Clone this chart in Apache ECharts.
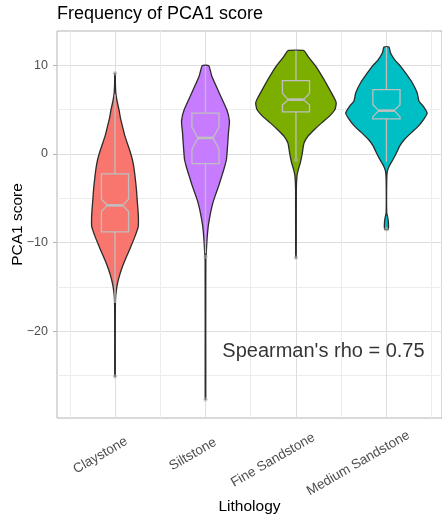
<!DOCTYPE html>
<html><head><meta charset="utf-8">
<script src="https://cdn.jsdelivr.net/npm/echarts@6/dist/echarts.min.js"></script>
<style>html,body{margin:0;padding:0;background:#fff}#c{width:442px;height:517px}</style>
</head><body><div id="c"></div>
<script>
// ---------------- data ----------------
const categories = ['Claystone', 'Siltstone', 'Fine Sandstone', 'Medium Sandstone'];
const fillColors = ['#F8766D', '#C77CFF', '#7CAE00', '#00BFC4'];

// violin density profiles: score values and half-widths (in category units)
const claystoneY = [9.1, 8.0, 6.9, 6.0, 5.0, 4.0, 3.1, 2.0, 1.2, 0.3, -0.6, -1.5, -2.5, -3.5, -4.4, -5.3, -6.3, -7.3, -8.2, -9.3, -10.4, -11.2, -12.0, -13.0, -14.0, -14.9, -16.0, -17.2, -21.0, -25.1];
const claystoneW = [0.003, 0.004, 0.009, 0.022, 0.044, 0.061, 0.083, 0.110, 0.136, 0.166, 0.191, 0.208, 0.221, 0.232, 0.240, 0.246, 0.254, 0.259, 0.257, 0.221, 0.177, 0.144, 0.110, 0.072, 0.042, 0.022, 0.008, 0.004, 0.003, 0.003];
const siltstoneY = [9.95, 8.75, 6.9, 5.0, 3.7, 2.4, 1.2, -0.6, -1.5, -2.5, -3.5, -4.4, -5.3, -6.3, -7.3, -8.2, -9.5, -11.1, -12.0, -20.0, -27.7];
const siltstoneW = [0.036, 0.070, 0.151, 0.235, 0.265, 0.254, 0.246, 0.232, 0.210, 0.180, 0.149, 0.118, 0.088, 0.063, 0.044, 0.030, 0.018, 0.009, 0.004, 0.003, 0.003];
const fineY = [11.65, 11.0, 9.9, 8.4, 7.25, 6.3, 5.75, 5.0, 4.2, 3.5, 2.7, 2.0, 1.2, 0.1, -1.0, -1.8, -2.5, -4.0, -11.7];
const fineW = [0.088, 0.133, 0.218, 0.309, 0.372, 0.423, 0.445, 0.431, 0.365, 0.284, 0.199, 0.133, 0.088, 0.070, 0.048, 0.025, 0.011, 0.004, 0.003];
const mediumY = [12.06, 11.4, 10.6, 9.9, 9.1, 8.0, 6.9, 5.9, 5.4, 4.6, 3.9, 3.1, 2.4, 1.6, 0.9, 0.1, -0.6, -1.4, -2.0, -3.0, -6.65, -7.2, -7.8, -8.5];
const mediumW = [0.028, 0.044, 0.092, 0.155, 0.213, 0.287, 0.339, 0.361, 0.406, 0.450, 0.412, 0.350, 0.276, 0.196, 0.147, 0.110, 0.074, 0.030, 0.009, 0.003, 0.003, 0.015, 0.022, 0.020];

// notched box plot statistics
const boxQ1 = [-8.8, -1.1, 4.73, 3.95];
const boxMedian = [-5.8, 1.8, 6.12, 4.88];
const boxQ3 = [-2.25, 4.6, 8.26, 7.25];
const notchLow = [-6.5, 0.5, 5.5, 4.2];
const notchHigh = [-5.1, 3.05, 6.85, 5.55];
const whiskerLow = [-16.8, -11.2, -0.5, -0.9];
const whiskerHigh = [6.7, 9.95, 11.65, 12.06];
const outliers = [[1, 9.1], [1, -25.1], [2, -11.6], [2, -27.7], [3, -0.7], [3, -11.7], [4, -8.5]];

const yTickValues = [-20, -10, 0, 10];
const yMinorValues = [-25, -15, -5, 5];
const xTickValues = [1, 2, 3, 4];
const xMinorValues = [0.5, 1.5, 2.5, 3.5, 4.5];
const annotationText = "Spearman's rho = 0.75";
const annotationPos = [3.304, -22.27];

// ---------------- chart ----------------
const FONT = '"Liberation Sans", Arial, Helvetica, sans-serif';
const violinY = [claystoneY, siltstoneY, fineY, mediumY];
const violinW = [claystoneW, siltstoneW, fineW, mediumW];

const ctx = document.createElement('canvas').getContext('2d');
ctx.font = '13.5px "Liberation Sans"';
const rich = { t: { fontSize: 13.5, color: '#4d4d4d', fontFamily: FONT } };
categories.forEach((c, i) => {
  const L = ctx.measureText(c).width;
  rich['p' + i] = { width: Math.max(0, 0.56 * L), fontSize: 13.5 };
});

const X_MIN = 0.359, X_MAX = 4.614, Y_MIN = -29.78, Y_MAX = 13.86;
const BOX_HW = 0.15, NOTCH_HW = 0.085;
const BOX_COLOR = '#bfbfbf';

const chart = echarts.init(document.getElementById('c'), null, { renderer: 'canvas' });
chart.setOption({
  animation: false,
  backgroundColor: '#ffffff',
  textStyle: { fontFamily: FONT },
  title: {
    text: 'Frequency of PCA1 score', left: 57, top: 5, padding: 0,
    textStyle: { fontSize: 18, fontWeight: 'normal', color: '#000', fontFamily: FONT }
  },
  grid: { left: 57, right: 0, top: 31, bottom: 99, show: true, borderColor: '#b3b3b3', borderWidth: 1, backgroundColor: 'transparent', containLabel: false, outerBoundsMode: 'none' },
  xAxis: [
    {
      type: 'value', min: X_MIN, max: X_MAX, position: 'bottom',
      axisLine: { show: false },
      axisTick: { show: true, customValues: xTickValues, length: 4, lineStyle: { color: '#b3b3b3' } },
      axisLabel: {
        customValues: xTickValues, rotate: 30, align: 'center', margin: 29,
        formatter: v => { const i = Math.round(v) - 1; return '{t|' + categories[i] + '}{p' + i + '| }'; },
        rich: rich, color: '#4d4d4d', fontSize: 13.5
      },
      splitLine: { show: true, lineStyle: { color: '#dedede', width: 1 } },
      name: 'Lithology', nameLocation: 'middle', nameGap: 81, nameMoveOverlap: false,
      nameTextStyle: { fontSize: 15.5, color: '#000', fontFamily: FONT }
    },
    {
      type: 'value', min: X_MIN, max: X_MAX, position: 'bottom',
      axisLine: { show: false }, axisLabel: { show: false },
      axisTick: { show: false, customValues: xMinorValues },
      splitLine: { show: true, lineStyle: { color: '#ececec', width: 1 } }
    }
  ],
  yAxis: [
    {
      type: 'value', min: Y_MIN, max: Y_MAX, position: 'left',
      axisLine: { show: false },
      axisTick: { show: true, customValues: yTickValues, length: 4, lineStyle: { color: '#b3b3b3' } },
      axisLabel: {
        customValues: yTickValues, margin: 9, fontSize: 12.5, color: '#4d4d4d', fontFamily: FONT,
        formatter: v => String(v).replace('-', '\u2212')
      },
      splitLine: { show: true, lineStyle: { color: '#dedede', width: 1 } },
      name: 'PCA1 score', nameLocation: 'middle', nameGap: 31, nameRotate: 90, nameMoveOverlap: false,
      nameTextStyle: { fontSize: 15.5, color: '#000', fontFamily: FONT }
    },
    {
      type: 'value', min: Y_MIN, max: Y_MAX, position: 'left',
      axisLine: { show: false }, axisLabel: { show: false },
      axisTick: { show: false, customValues: yMinorValues },
      splitLine: { show: true, lineStyle: { color: '#ececec', width: 1 } }
    }
  ],
  series: [
    {
      type: 'custom', name: 'violin', xAxisIndex: 0, yAxisIndex: 0, z: 3, clip: false,
      data: categories.map((c, i) => [i + 1, boxMedian[i]]),
      renderItem: (params, api) => {
        const i = params.dataIndex, x = api.value(0);
        const ys = violinY[i], ws = violinW[i];
        const right = ys.map((y, k) => api.coord([x + ws[k], y]));
        const left = ys.map((y, k) => api.coord([x - ws[k], y])).reverse();
        return {
          type: 'polygon', shape: { points: right.concat(left), smooth: 0.15 },
          style: { fill: fillColors[i], stroke: '#2b2b2b', lineWidth: 1.3, lineJoin: 'round' }
        };
      }
    },
    {
      type: 'custom', name: 'box', xAxisIndex: 0, yAxisIndex: 0, z: 4, clip: false,
      data: categories.map((c, i) => [i + 1, boxMedian[i]]),
      renderItem: (params, api) => {
        const i = params.dataIndex, x = api.value(0);
        const P = (dx, y) => api.coord([x + dx, y]);
        const boxPts = [
          P(-BOX_HW, boxQ3[i]), P(BOX_HW, boxQ3[i]), P(BOX_HW, notchHigh[i]), P(NOTCH_HW, boxMedian[i]),
          P(BOX_HW, notchLow[i]), P(BOX_HW, boxQ1[i]), P(-BOX_HW, boxQ1[i]), P(-BOX_HW, notchLow[i]),
          P(-NOTCH_HW, boxMedian[i]), P(-BOX_HW, notchHigh[i])
        ];
        const ls = { stroke: BOX_COLOR, lineWidth: 1.3, fill: null };
        const a = P(0, boxQ3[i]), b = P(0, whiskerHigh[i]), c = P(0, boxQ1[i]), d = P(0, whiskerLow[i]);
        const m1 = P(-NOTCH_HW, boxMedian[i]), m2 = P(NOTCH_HW, boxMedian[i]);
        return {
          type: 'group', children: [
            { type: 'line', shape: { x1: a[0], y1: a[1], x2: b[0], y2: b[1] }, style: ls },
            { type: 'line', shape: { x1: c[0], y1: c[1], x2: d[0], y2: d[1] }, style: ls },
            { type: 'polygon', shape: { points: boxPts }, style: { stroke: BOX_COLOR, lineWidth: 1.3, fill: 'transparent' } },
            { type: 'line', shape: { x1: m1[0], y1: m1[1], x2: m2[0], y2: m2[1] }, style: { stroke: BOX_COLOR, lineWidth: 2.6 } }
          ]
        };
      }
    },
    {
      type: 'scatter', name: 'outliers', xAxisIndex: 0, yAxisIndex: 0, z: 5,
      data: outliers, symbol: 'circle', symbolSize: 4.5,
      itemStyle: { color: 'rgba(180,180,180,0.7)' }, silent: true
    },
    {
      type: 'scatter', name: 'annotation', xAxisIndex: 0, yAxisIndex: 0, z: 6,
      data: [annotationPos], symbolSize: 0, silent: true,
      label: { show: true, position: 'inside', formatter: annotationText, fontSize: 20, color: '#000', fontFamily: FONT }
    }
  ]
});
</script></body></html>
